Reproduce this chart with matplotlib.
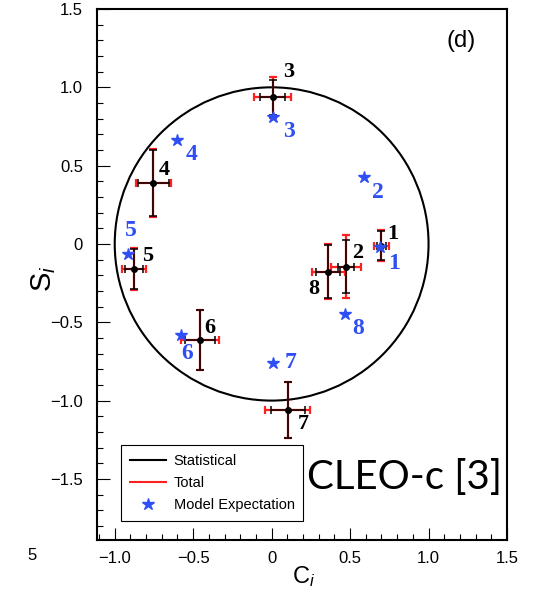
import numpy as np
import matplotlib
matplotlib.use("Agg")
import matplotlib.pyplot as plt
from matplotlib.patches import Circle
from matplotlib.lines import Line2D
from matplotlib.ticker import MultipleLocator, FixedLocator, FuncFormatter

plt.rcParams['font.family'] = ['Liberation Sans', 'DejaVu Sans']
plt.rcParams['mathtext.fontset'] = 'custom'
plt.rcParams['mathtext.rm'] = 'Liberation Sans'
plt.rcParams['mathtext.it'] = 'Liberation Sans:italic'

# ---- data ----
bins = ['1', '2', '3', '4', '5', '6', '7', '8']
C_meas = [0.70, 0.474, 0.006, -0.753, -0.879, -0.458, 0.102, 0.36]
S_meas = [-0.01, -0.145, 0.935, 0.389, -0.16, -0.613, -1.06, -0.177]
C_stat = [0.03, 0.05, 0.078, 0.10, 0.058, 0.095, 0.108, 0.075]
C_tot = [0.05, 0.095, 0.12, 0.114, 0.077, 0.12, 0.143, 0.105]
S_stat = [0.095, 0.17, 0.11, 0.21, 0.13, 0.19, 0.18, 0.17]
S_tot = [0.10, 0.20, 0.13, 0.215, 0.135, 0.19, 0.18, 0.175]
C_model = [0.69, 0.59, 0.006, -0.602, -0.915, -0.58, 0.01, 0.468]
S_model = [-0.017, 0.425, 0.81, 0.664, -0.064, -0.58, -0.76, -0.447]

xticks = [-1.0, -0.5, 0.0, 0.5, 1.0, 1.5]
yticks = [-1.5, -1.0, -0.5, 0.0, 0.5, 1.0, 1.5]

# label offsets (pixels) -- styling
meas_off = [(11, -12), (12, -14), (16, -25), (11, -13), (14, -13), (10, -12), (16, 14), (-14, 17)]
model_off = [(14, 17), (14, 15), (16, 14), (14, 15), (3, -23), (6, 19), (17, 0), (13, 15)]

W, H = 536, 595
fig = plt.figure(figsize=(W / 100, H / 100), dpi=100)
L, R, T, B = 97, 507, 9, 540
ax = fig.add_axes([L / W, 1 - B / H, (R - L) / W, (B - T) / H])
ax.set_xlim(-1.113, 1.5)
ax.set_ylim(-1.89, 1.5)

ax.add_patch(Circle((0, 0), 1.0, fill=False, ec='black', lw=1.5, zorder=2))

blue = '#2f4ff5'
ax.errorbar(C_meas, S_meas, xerr=C_tot, yerr=S_tot, fmt='none', ecolor='#ff2020',
            elinewidth=1.6, capsize=2.6, capthick=1.6, zorder=3)
ax.errorbar(C_meas, S_meas, xerr=C_stat, yerr=S_stat, fmt='none', ecolor='black',
            elinewidth=1.1, capsize=2.6, capthick=1.1, zorder=4)
ax.plot(C_meas, S_meas, 'o', color='black', ms=4, zorder=5)
ax.plot(C_model, S_model, '*', color=blue, ms=9, mec=blue, zorder=6, linestyle='none')

for i, b in enumerate(bins):
    dx, dy = meas_off[i]
    ax.annotate(b, (C_meas[i], S_meas[i]), xytext=(dx * 0.72, -dy * 0.72),
                textcoords='offset points', ha='center', va='center',
                family='Liberation Serif', fontweight='bold', fontsize=16,
                color='black', zorder=7)
    dx, dy = model_off[i]
    ax.annotate(b, (C_model[i], S_model[i]), xytext=(dx * 0.72, -dy * 0.72),
                textcoords='offset points', ha='center', va='center',
                family='Liberation Serif', fontweight='bold', fontsize=17,
                color=blue, zorder=7)

# ticks
def fmt(v, pos):
    if abs(v) < 1e-9:
        return '0'
    s = '%.1f' % abs(v)
    return ('\u2212' + s) if v < 0 else s

ax.xaxis.set_major_locator(FixedLocator(xticks))
ax.yaxis.set_major_locator(FixedLocator(yticks))
ax.xaxis.set_minor_locator(MultipleLocator(0.1))
ax.yaxis.set_minor_locator(MultipleLocator(0.1))
ax.xaxis.set_major_formatter(FuncFormatter(fmt))
ax.yaxis.set_major_formatter(FuncFormatter(fmt))
ax.tick_params(which='both', direction='in', top=False, right=False, width=0.8)
ax.tick_params(which='major', length=9, labelsize=12)
ax.tick_params(axis='x', which='major', pad=8)
ax.tick_params(axis='y', which='major', pad=10)
ax.tick_params(which='minor', length=4.5)
for sp in ax.spines.values():
    sp.set_linewidth(1.5)

# axis labels
fig.text(291.7 / W, 1 - 583.3 / H, r'$\mathrm{C}_{i}$', fontsize=17, ha='left', va='baseline')
fig.text(44 / W, 1 - 279 / H, r'$\mathrm{S}_{i}$', fontsize=21, rotation=90, ha='center', va='center')
fig.text(32 / W, 1 - 555 / H, '5', fontsize=12, ha='center', va='center')

fig.text(461 / W, 1 - 41 / H, '(d)', fontsize=17, ha='center', va='center')
fig.text(307 / W, 1 - 489 / H, 'CLEO-c [3]', family='Lato', fontsize=29, ha='left', va='baseline')

handles = [Line2D([], [], color='black', lw=1.5),
           Line2D([], [], color='#ff2020', lw=1.5),
           Line2D([], [], color=blue, marker='*', ms=9, linestyle='none')]
leg = ax.legend(handles, ['Statistical', 'Total', 'Model Expectation'],
                loc='lower left', bbox_to_anchor=((121 - L) / (R - L), (B - 521) / (B - T)),
                borderaxespad=0, fontsize=10.5, frameon=True, fancybox=False,
                edgecolor='black', framealpha=1, handlelength=2.5, handletextpad=0.5,
                labelspacing=0.55, borderpad=0.6)
leg.get_frame().set_linewidth(0.8)

fig.savefig('out.png', dpi=100)
